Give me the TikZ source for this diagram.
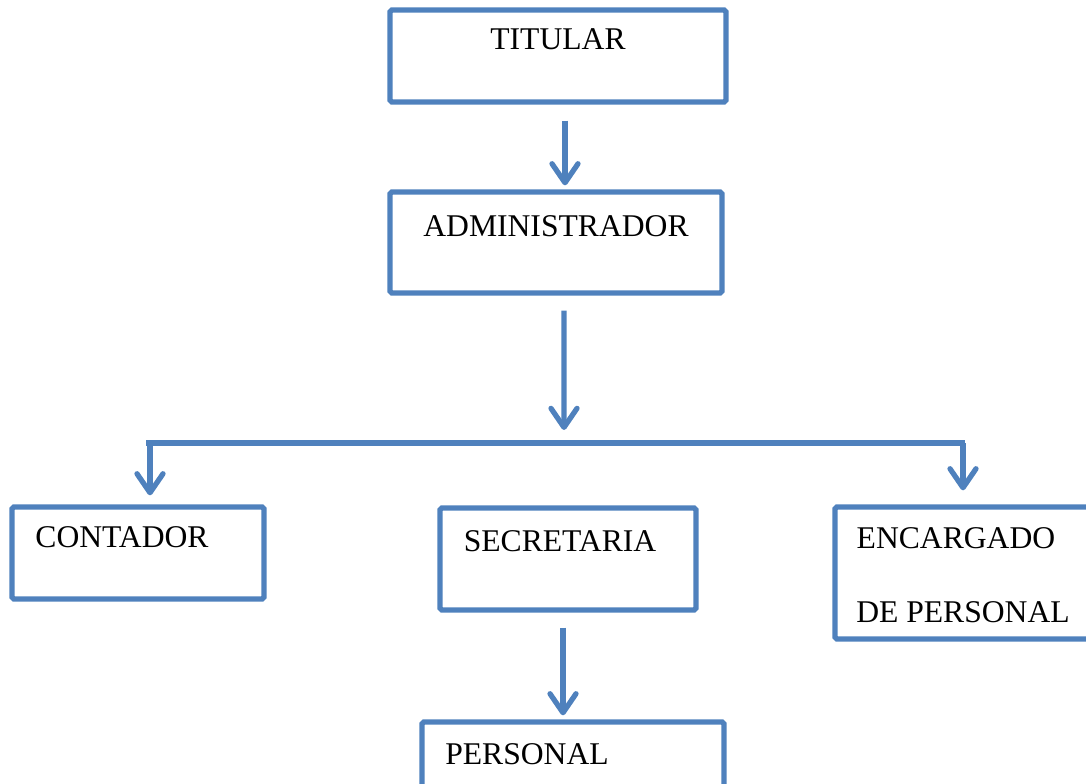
\documentclass[tikz,border=0pt]{standalone}
\usepackage{fontspec}
\setmainfont{Liberation Serif}
\usetikzlibrary{arrows.meta,calc}
\definecolor{azul}{HTML}{4F81BD}
\tikzset{
  caja/.style={draw=azul, line width=3pt, rounded corners=1pt, inner sep=0pt},
  texto/.style={font=\fontsize{18}{22}\selectfont, inner sep=0pt},
  linea/.style={draw=azul, line width=3pt},
  flecha/.style={linea, -{Straight Barb[round,length=0.38cm,width=0.52cm]}}
}
\begin{document}
\begin{tikzpicture}[x=0.02cm, y=-0.02cm]
    \useasboundingbox (0,0) rectangle (1086,784);

    % Cajas del organigrama
    \node[caja, minimum width=6.72cm, minimum height=1.84cm] (titular) at (558,56) {}; % Titular
    \node[caja, minimum width=6.64cm, minimum height=2.02cm] (admin) at (556,242.5) {}; % Administrador
    \node[caja, minimum width=5.04cm, minimum height=1.84cm] (contador) at (138,553) {}; % Contador
    \node[caja, minimum width=5.12cm, minimum height=2.04cm] (secretaria) at (568,559) {}; % Secretaria
    \node[caja, minimum width=5.3cm, minimum height=2.64cm] (encargado) at (967.5,573) {}; % Encargado de personal
    \node[caja, minimum width=6.04cm, minimum height=1.56cm] (personal) at (573,761) {}; % Personal

    % Textos de las cajas
    \node[texto] (t-titular) at (558,39) {TITULAR};
    \node[texto] (t-admin) at (556,226) {ADMINISTRADOR};
    \node[texto] (t-contador) at (122,537) {CONTADOR};
    \node[texto] (t-secretaria) at (560,541) {SECRETARIA};
    \node[texto] (t-encargado1) at (956,538) {ENCARGADO};
    \node[texto] (t-encargado2) at (963,612) {DE PERSONAL};
    \node[texto] (t-personal) at (527,754) {PERSONAL};

    % Ramificacion
    \coordinate (rama) at (564,430);
    \coordinate (izq) at (150,443);
    \coordinate (der) at (963,443);

    % Flechas
    \draw[flecha, shorten <=0.32cm, shorten >=0.08cm] ([xshift=0.14cm]titular.south) -- ([xshift=0.14cm]titular.south |- admin.north);
    \draw[flecha, shorten <=0.3cm] ([xshift=0.16cm]admin.south) -- (rama);
    \draw[linea] ([xshift=-0.08cm]izq) -- ([xshift=0.04cm]der);
    \draw[flecha, shorten >=0.18cm] (izq) -- (izq |- contador.north);
    \draw[flecha, shorten >=0.28cm] (der) -- (der |- encargado.north);
    \draw[flecha, shorten <=0.3cm, shorten >=0.08cm] ([xshift=-0.1cm]secretaria.south) -- ([xshift=-0.1cm]secretaria.south |- personal.north);
\end{tikzpicture}
\end{document}
